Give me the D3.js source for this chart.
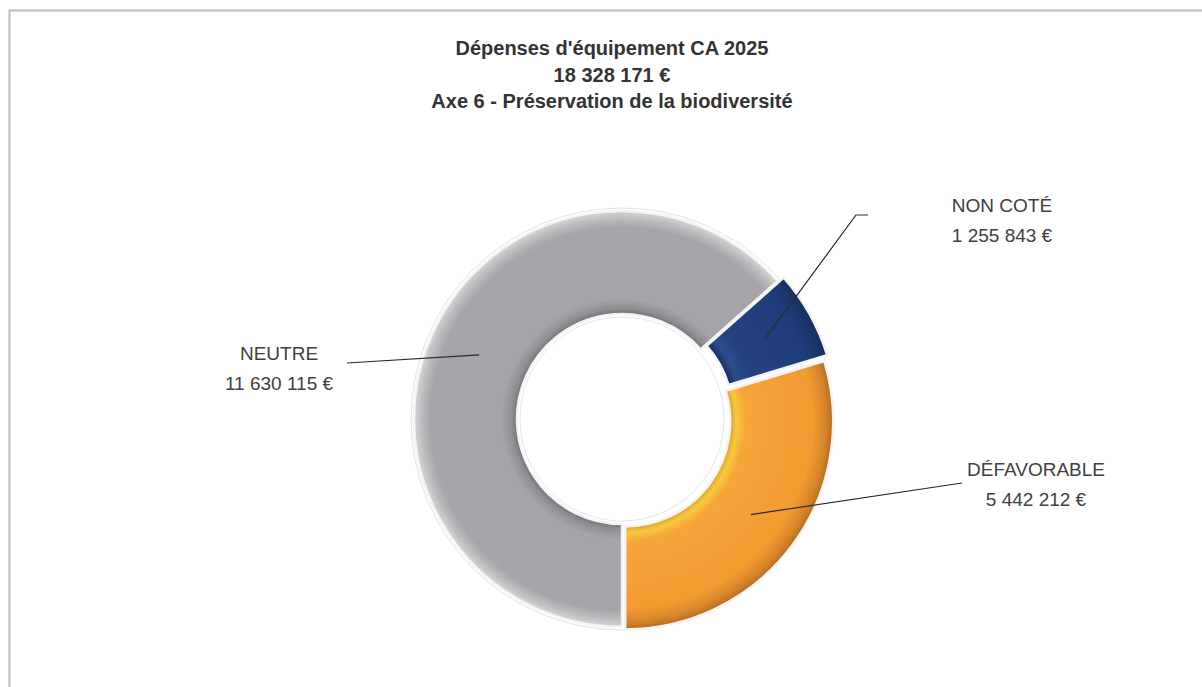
<!DOCTYPE html>
<html><head><meta charset="utf-8">
<script src="https://cdn.jsdelivr.net/npm/d3@7"></script>
<style>body{margin:0;background:#fff}svg{display:block}</style>
</head><body>
<svg id="c" width="1202" height="687"></svg>
<script>
const categories = ["NEUTRE", "NON COTÉ", "DÉFAVORABLE"];
const values = [11630115, 1255843, 5442212];
const valueLabels = ["11 630 115 €", "1 255 843 €", "5 442 212 €"];
const titleLines = ["Dépenses d'équipement CA 2025", "18 328 171 €", "Axe 6 - Préservation de la biodiversité"];

const W = 1202, H = 687;
const svg = d3.select("#c");
const cx = 622, cy = 419, R = 208, r = 105;
const FONT = "'Liberation Sans', Arial, sans-serif";

// frame
svg.append("rect").attr("x", 9.5).attr("y", 10.5).attr("width", 1300).attr("height", 800)
  .attr("fill", "none").attr("stroke", "#bcbcbc").attr("stroke-width", 2);

// title
svg.append("g").selectAll("text").data(titleLines).join("text")
  .attr("x", 612).attr("y", (d, i) => 55 + i * 26.5)
  .attr("text-anchor", "middle").attr("font-family", FONT).attr("font-weight", "bold")
  .attr("font-size", 20).attr("fill", "#333").text(d => d);

const defs = svg.append("defs");
const gradStops = [
  [[0.50, "#6a6c6f"], [0.53, "#8c8e91"], [0.58, "#a3a5a8"], [0.92, "#a4a6a9"], [0.965, "#bcbdbf"], [1, "#d6d6d6"]],
  [[0.50, "#132a55"], [0.55, "#2d4d8c"], [0.62, "#23427f"], [0.9, "#1f3d7a"], [1, "#16305f"]],
  [[0.50, "#e0962c"], [0.535, "#f6c93c"], [0.58, "#f5a53a"], [0.9, "#f29b31"], [0.965, "#d5842a"], [1, "#b56b1e"]]
];
categories.forEach((c, i) => {
  const g = defs.append("radialGradient").attr("id", "g" + i)
    .attr("gradientUnits", "userSpaceOnUse").attr("cx", 0).attr("cy", 0).attr("r", R);
  gradStops[i].forEach(s => g.append("stop").attr("offset", s[0]).attr("stop-color", s[1]));
});

const pie = d3.pie().sort(null).startAngle(Math.PI).endAngle(3 * Math.PI);
const arcs = pie(values);
const arc = d3.arc().innerRadius(r).outerRadius(R);
const explode = [0, 7, 4];

const g = svg.append("g").attr("transform", `translate(${cx},${cy})`);
// faint outer outline
g.append("circle").attr("r", R + 3).attr("fill", "none").attr("stroke", "#e2e2e2").attr("stroke-width", 1);
g.append("circle").attr("r", r - 3).attr("fill", "none").attr("stroke", "#e6e6e6").attr("stroke-width", 1);

const sl = g.selectAll("g.s").data(arcs).join("g").attr("class", "s")
  .attr("transform", (d, i) => {
    const a = (d.startAngle + d.endAngle) / 2;
    return `translate(${Math.sin(a) * explode[i]},${-Math.cos(a) * explode[i]})`;
  });
sl.append("path").attr("d", arc).attr("fill", (d, i) => `url(#g${i})`)
  .attr("stroke", "#f4f4f4").attr("stroke-width", 2.5);

// labels
const labelPos = [
  {lx: 279, ly: 360, line: [[347, 363]]},
  {lx: 1002, ly: 212, line: [[856, 215], [868, 215]]},
  {lx: 1036, ly: 476, line: [[962, 483]]}
];
arcs.forEach((d, i) => {
  const c = arc.centroid(d);
  const a = (d.startAngle + d.endAngle) / 2;
  const sx = cx + c[0] + Math.sin(a) * explode[i], sy = cy + c[1] - Math.cos(a) * explode[i];
  const pts = [[sx, sy]].concat(labelPos[i].line);
  svg.append("path").attr("d", d3.line()(pts)).attr("fill", "none")
    .attr("stroke", "#2a2a2a").attr("stroke-width", 1.2);
  const t = svg.append("text").attr("text-anchor", "middle").attr("font-family", FONT)
    .attr("font-size", 19).attr("fill", "#404040");
  t.append("tspan").attr("x", labelPos[i].lx).attr("y", labelPos[i].ly).text(categories[i]);
  t.append("tspan").attr("x", labelPos[i].lx).attr("y", labelPos[i].ly + 30).text(valueLabels[i]);
});
</script>
</body></html>
